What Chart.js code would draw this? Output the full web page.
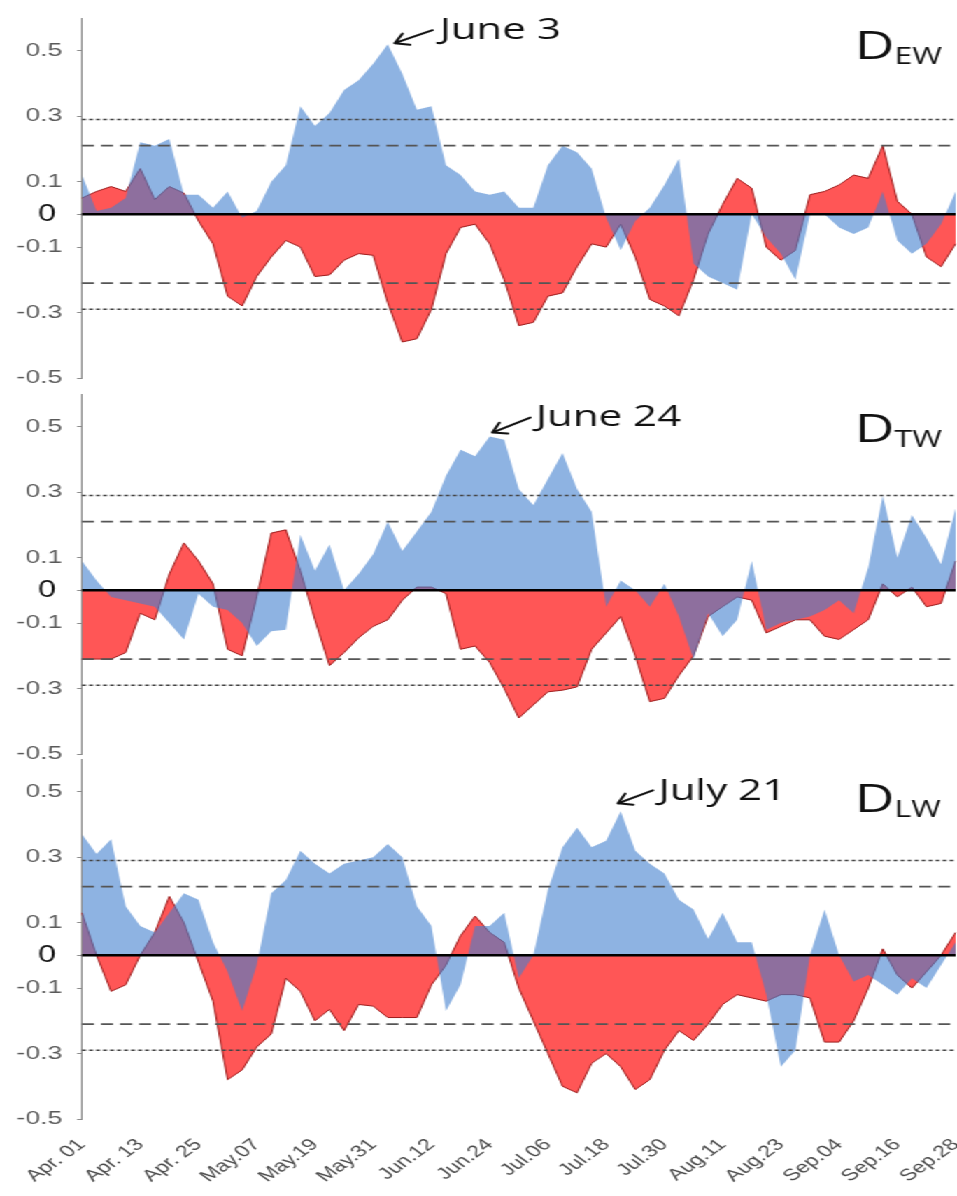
<!DOCTYPE html>
<html>
<head>
<meta charset="utf-8">
<script src="https://cdn.jsdelivr.net/npm/chart.js@4.4.1/dist/chart.umd.min.js"></script>
<style>
  html, body { margin: 0; padding: 0; background: #fff; }
  body { width: 957px; height: 1196px; overflow: hidden; position: relative; }
  /* the reference picture is stretched sideways, so draw narrow and stretch */
  #stretch { position: absolute; left: 0; top: 0; width: 684px; height: 1196px; transform: scaleX(1.3991); transform-origin: 0 0; }
  #stretch canvas { position: absolute; left: 0; }
</style>
</head>
<body>
<div id="stretch">
  <canvas id="panelEW" width="684" height="392" style="top:0px"></canvas>
  <canvas id="panelTW" width="684" height="392" style="top:380px"></canvas>
  <canvas id="panelLW" width="684" height="451" style="top:745px"></canvas>
</div>
<script>
// one point every 3 days, Apr 01 .. Sep 28
const dates = ["Apr. 01","Apr. 04","Apr. 07","Apr. 10","Apr. 13","Apr. 16","Apr. 19","Apr. 22","Apr. 25","Apr. 28",
  "May.01","May.04","May.07","May.10","May.13","May.16","May.19","May.22","May.25","May.28","May.31",
  "Jun.03","Jun.06","Jun.09","Jun.12","Jun.15","Jun.18","Jun.21","Jun.24","Jun.27","Jun.30",
  "Jul.03","Jul.06","Jul.09","Jul.12","Jul.15","Jul.18","Jul.21","Jul.24","Jul.27","Jul.30",
  "Aug.02","Aug.05","Aug.08","Aug.11","Aug.14","Aug.17","Aug.20","Aug.23","Aug.26","Aug.29",
  "Sep.01","Sep.04","Sep.07","Sep.10","Sep.13","Sep.16","Sep.19","Sep.22","Sep.25","Sep.28"];
const xTickLabels = ["Apr. 01","Apr. 13","Apr. 25","May.07","May.19","May.31","Jun.12","Jun.24",
  "Jul.06","Jul.18","Jul.30","Aug.11","Aug.23","Sep.04","Sep.16","Sep.28"];
const yTicks = [-0.5, -0.3, -0.1, 0, 0.1, 0.3, 0.5];
const dottedLevels = [0.29, -0.29];
const dashedLevels = [0.21, -0.21];

const blueEW = [0.12, 0.01, 0.02, 0.05, 0.22, 0.21, 0.23, 0.06, 0.06, 0.02,
  0.07, -0.01, 0.01, 0.10, 0.15, 0.33, 0.27, 0.31, 0.38, 0.41,
  0.46, 0.52, 0.43, 0.32, 0.33, 0.15, 0.12, 0.07, 0.06, 0.07,
  0.02, 0.02, 0.15, 0.21, 0.19, 0.14, -0.01, -0.11, -0.02, 0.02,
  0.09, 0.17, -0.15, -0.19, -0.21, -0.23, 0.00, -0.07, -0.12, -0.20,
  0.00, 0.00, -0.04, -0.06, -0.04, 0.07, -0.08, -0.12, -0.09, -0.03, 0.07];
const redEW = [0.05, 0.07, 0.085, 0.07, 0.14, 0.045, 0.085, 0.065, -0.02, -0.09,
  -0.25, -0.28, -0.19, -0.13, -0.08, -0.10, -0.19, -0.185, -0.14, -0.12,
  -0.125, -0.27, -0.39, -0.38, -0.29, -0.12, -0.04, -0.03, -0.09, -0.20,
  -0.34, -0.33, -0.25, -0.24, -0.16, -0.09, -0.10, -0.03, -0.13, -0.26,
  -0.28, -0.31, -0.20, -0.06, 0.03, 0.11, 0.08, -0.10, -0.14, -0.11,
  0.06, 0.07, 0.09, 0.12, 0.11, 0.21, 0.04, 0.00, -0.13, -0.16, -0.09];

const blueTW = [0.09, 0.03, -0.02, -0.03, -0.04, -0.05, -0.10, -0.15, -0.01, -0.05,
  -0.06, -0.10, -0.17, -0.125, -0.12, 0.17, 0.06, 0.14, 0.00, 0.05,
  0.11, 0.21, 0.12, 0.18, 0.24, 0.35, 0.43, 0.41, 0.47, 0.46,
  0.31, 0.26, 0.34, 0.42, 0.31, 0.24, -0.05, 0.03, 0.00, -0.05,
  0.02, -0.08, -0.21, -0.07, -0.14, -0.09, 0.09, -0.12, -0.10, -0.09,
  -0.08, -0.06, -0.03, -0.07, 0.07, 0.29, 0.10, 0.23, 0.16, 0.08, 0.25];
const redTW = [-0.21, -0.21, -0.21, -0.19, -0.07, -0.09, 0.05, 0.145, 0.09, 0.02,
  -0.18, -0.20, -0.02, 0.175, 0.185, 0.06, -0.09, -0.23, -0.19, -0.145,
  -0.11, -0.09, -0.03, 0.01, 0.01, -0.01, -0.18, -0.17, -0.22, -0.30,
  -0.39, -0.35, -0.31, -0.305, -0.295, -0.18, -0.13, -0.08, -0.20, -0.34,
  -0.33, -0.26, -0.20, -0.08, -0.05, -0.02, -0.03, -0.13, -0.11, -0.09,
  -0.09, -0.14, -0.15, -0.12, -0.09, 0.02, -0.02, 0.01, -0.05, -0.04, 0.09];

const blueLW = [0.37, 0.31, 0.355, 0.15, 0.09, 0.07, 0.13, 0.19, 0.17, 0.04,
  -0.05, -0.17, -0.03, 0.19, 0.23, 0.32, 0.28, 0.25, 0.28, 0.29,
  0.30, 0.34, 0.30, 0.15, 0.09, -0.17, -0.09, 0.09, 0.09, 0.13,
  -0.07, 0.00, 0.20, 0.33, 0.39, 0.33, 0.35, 0.44, 0.32, 0.28,
  0.25, 0.17, 0.14, 0.05, 0.13, 0.04, 0.04, -0.12, -0.34, -0.29,
  0.00, 0.14, 0.00, -0.08, -0.06, -0.09, -0.12, -0.07, -0.10, -0.03, 0.04];
const redLW = [0.13, 0.00, -0.11, -0.09, 0.00, 0.07, 0.18, 0.10, -0.02, -0.14,
  -0.38, -0.35, -0.28, -0.24, -0.07, -0.11, -0.20, -0.165, -0.23, -0.15,
  -0.155, -0.19, -0.19, -0.19, -0.09, -0.03, 0.06, 0.12, 0.07, 0.04,
  -0.10, -0.20, -0.30, -0.40, -0.42, -0.33, -0.30, -0.34, -0.41, -0.38,
  -0.29, -0.23, -0.26, -0.21, -0.15, -0.12, -0.13, -0.14, -0.12, -0.12,
  -0.13, -0.265, -0.265, -0.20, -0.10, 0.02, -0.06, -0.10, -0.05, 0.00, 0.07];

const tickFont = "'Liberation Sans', Arial, sans-serif";
const textFont = "'Open Sans', 'Noto Sans', sans-serif";

function decor(cfg) {
  return {
    id: "decor_" + cfg.id,
    afterDatasetsDraw(chart) {
      const { ctx, chartArea: a, scales: { x, y } } = chart;
      ctx.save();
      const hline = (v, dash, color, width) => {
        const py = y.getPixelForValue(v);
        ctx.beginPath();
        ctx.setLineDash(dash);
        ctx.strokeStyle = color;
        ctx.lineWidth = width;
        ctx.moveTo(a.left, py);
        ctx.lineTo(a.right, py);
        ctx.stroke();
      };
      dottedLevels.forEach((v) => hline(v, [2.9, 2.1], "#444", 1.5));
      dashedLevels.forEach((v) => hline(v, [8.6, 5], "#555", 1.8));
      hline(0, [], "#000", 2.5);

      // arrow + date note at the peak
      const px = x.getPixelForValue(cfg.noteIndex);
      const py = y.getPixelForValue(cfg.blue[cfg.noteIndex]);
      const [hx, hy] = [px + cfg.head[0], py + cfg.head[1]];
      const [tx, ty] = [px + cfg.tail[0], py + cfg.tail[1]];
      ctx.setLineDash([]);
      ctx.strokeStyle = "#111";
      ctx.lineWidth = 2;
      ctx.lineCap = "round";
      ctx.beginPath();
      ctx.moveTo(tx, ty);
      ctx.lineTo(hx, hy);
      const ang = Math.atan2(ty - hy, tx - hx);
      [-0.6, 0.6].forEach((d) => {
        ctx.moveTo(hx, hy);
        ctx.lineTo(hx + 11 * Math.cos(ang + d), hy + 11 * Math.sin(ang + d));
      });
      ctx.stroke();
      ctx.fillStyle = "#111";
      ctx.textBaseline = "alphabetic";
      ctx.textAlign = "left";
      ctx.font = `30px ${textFont}`;
      ctx.fillText(cfg.note, px + cfg.text[0], py + cfg.text[1]);

      // panel title with subscript
      const dx = a.right - 72;
      const dy = a.top + cfg.titleDy;
      ctx.font = `39px ${textFont}`;
      ctx.fillText("D", dx, dy);
      const w = ctx.measureText("D").width;
      ctx.font = `23px ${textFont}`;
      ctx.fillText(cfg.sub, dx + w, dy + 5);
      ctx.restore();
    }
  };
}

function makePanel(cfg) {
  return new Chart(document.getElementById(cfg.id), {
    type: "line",
    data: {
      labels: dates,
      datasets: [
        { data: cfg.blue, fill: "origin", backgroundColor: "rgba(66,128,207,0.6)", borderColor: "rgba(0,0,0,0)", borderWidth: 0, pointRadius: 0, order: 0 },
        { data: cfg.red, fill: "origin", backgroundColor: "rgb(255,86,86)", borderColor: "#9e1c1c", borderWidth: 1, pointRadius: 0, order: 1 }
      ]
    },
    options: {
      responsive: false,
      animation: false,
      devicePixelRatio: 1,
      events: [],
      layout: { padding: { top: cfg.padTop, bottom: cfg.padBottom, left: 0, right: 1 } },
      elements: { line: { tension: 0 } },
      plugins: { legend: { display: false }, tooltip: { enabled: false } },
      scales: {
        x: {
          display: cfg.showX,
          grid: { display: false },
          border: { display: false },
          ticks: { autoSkip: false, minRotation: 45, maxRotation: 45, padding: 8, color: "#4a4a4a", font: { family: tickFont, size: 16.5 } },
          afterBuildTicks: (s) => { s.ticks = s.ticks.filter((t) => xTickLabels.includes(dates[t.value])); },
          afterFit: (s) => {
            if (cfg.showX) s.height = 77;
            s.paddingLeft = 0;
            s.paddingRight = 0;
          }
        },
        y: {
          min: -0.5,
          max: 0.6,
          afterBuildTicks: (s) => { s.ticks = yTicks.map((v) => ({ value: v })); },
          afterFit: (s) => {
            s.width = 58.6;
            s.paddingTop = 0;
            s.paddingBottom = 0;
          },
          grid: { display: true, drawOnChartArea: false, drawTicks: true, tickLength: 3.5, color: "#8c8c8c", lineWidth: 1 },
          border: { display: true, color: "#8c8c8c", width: 1 },
          ticks: {
            padding: 10.5,
            color: (c) => (c.tick && c.tick.value === 0 ? "#111" : "#5a5a5a"),
            font: (c) => (c.tick && c.tick.value === 0 ? { family: tickFont, size: 23 } : { family: tickFont, size: 19 }),
            callback: (v) => (v === 0 ? "0\u2009" : String(v))
          }
        }
      }
    },
    plugins: [decor(cfg)]
  });
}

makePanel({ id: "panelEW", blue: blueEW, red: redEW, sub: "EW", note: "June 3", noteIndex: 21,
  head: [5, -1], tail: [32, -14], text: [37, -5], titleDy: 41, padTop: 18, padBottom: 14, showX: false });
makePanel({ id: "panelTW", blue: blueTW, red: redTW, sub: "TW", note: "June 24", noteIndex: 28,
  head: [2, -4], tail: [29, -19], text: [33, -11], titleDy: 48, padTop: 14, padBottom: 18, showX: false });
makePanel({ id: "panelLW", blue: blueLW, red: redLW, sub: "LW", note: "July 21", noteIndex: 37,
  head: [-2, -8], tail: [23, -21], text: [27, -11], titleDy: 53, padTop: 14, padBottom: 0, showX: true });
</script>
</body>
</html>
